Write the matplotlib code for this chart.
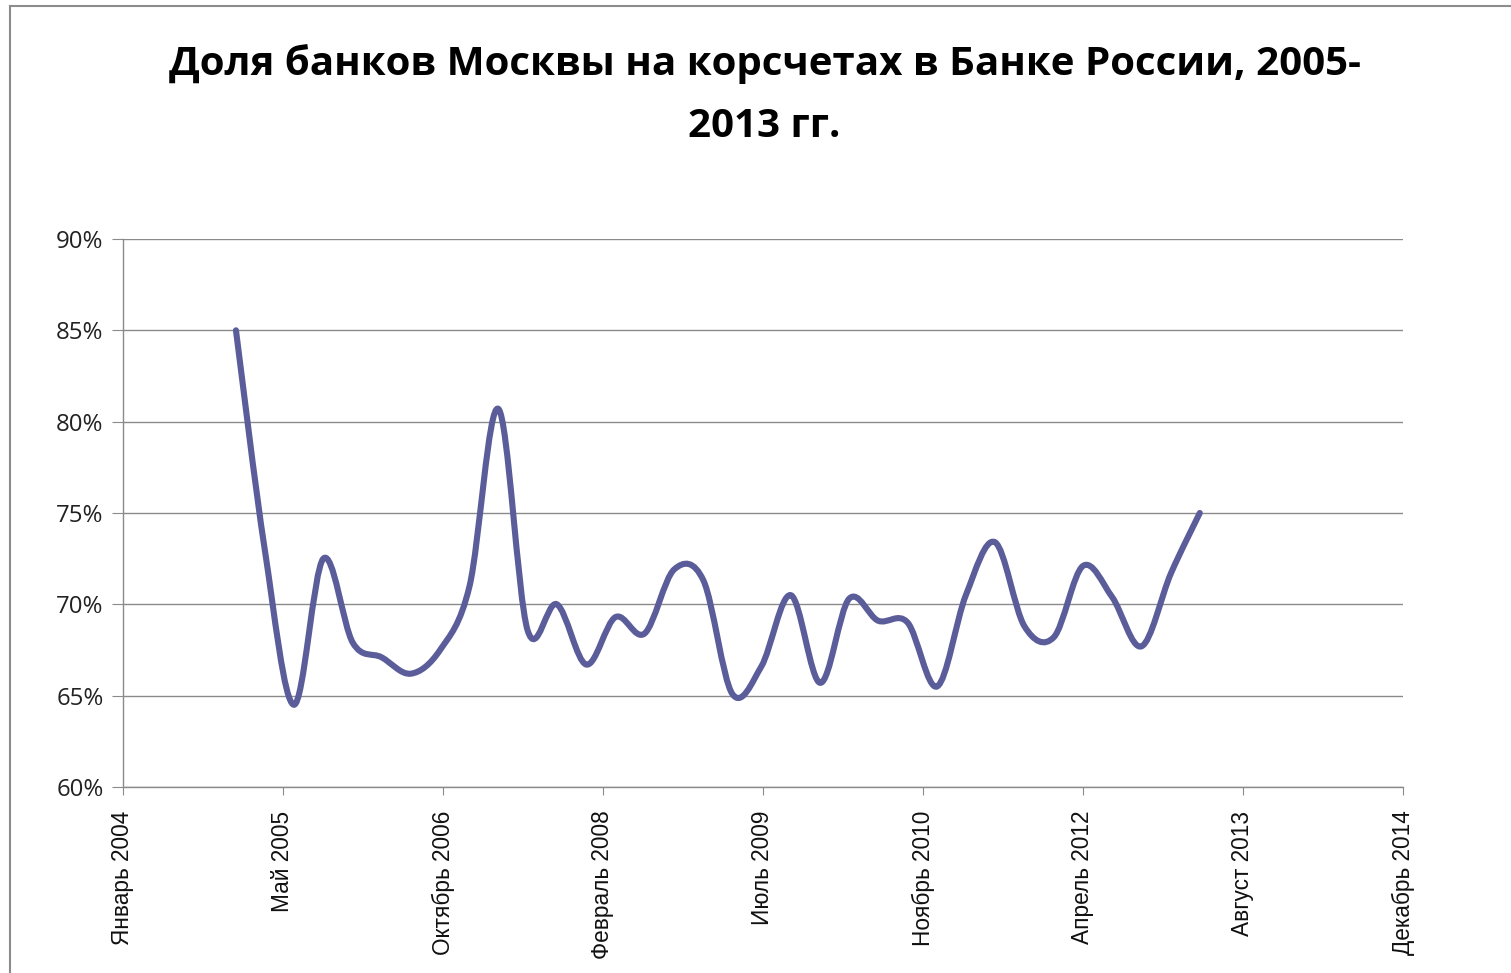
import datetime as dt

import numpy as np
import matplotlib
matplotlib.use("Agg")
import matplotlib.pyplot as plt
import matplotlib.dates as mdates
from matplotlib.path import Path
from matplotlib.patches import PathPatch
from matplotlib.lines import Line2D
from matplotlib.ticker import FixedLocator, FuncFormatter

# quarterly share of Moscow banks on correspondent accounts, 2005-2013
quarters = [dt.date(2005 + i // 4, 1 + 3 * (i % 4), 1) for i in range(34)]
share = [85.0, 73.0, 64.5, 72.5, 67.9, 67.1, 66.2, 67.5, 71.0, 80.7,
         68.6, 70.0, 66.7, 69.3, 68.4, 71.9, 71.3, 65.1, 66.6, 70.5,
         65.7, 70.3, 69.1, 69.0, 65.5, 70.5, 73.4, 68.8, 68.2, 72.1,
         70.4, 67.7, 71.7, 75.0]

# Excel-like date axis: serial 38000 .. 42000, major unit 500 days
axis_start = dt.date(2004, 1, 14)
axis_step = 500
tick_labels = ["Январь 2004", "Май 2005", "Октябрь 2006", "Февраль 2008",
               "Июль 2009", "Ноябрь 2010", "Апрель 2012", "Август 2013",
               "Декабрь 2014"]
y_ticks = [60, 65, 70, 75, 80, 85, 90]

title = "Доля банков Москвы на корсчетах в Банке России, 2005-\n2013 гг."

line_color = "#5b5d9a"
grid_color = "#8a8a8a"


def smooth_path(x, y):
    """Catmull-Rom style bezier through the points (like Excel's smoothed line)."""
    x = np.asarray(x, float)
    y = np.asarray(y, float)
    n = len(x)
    verts = [(x[0], y[0])]
    codes = [Path.MOVETO]
    for i in range(n - 1):
        i0 = max(i - 1, 0)
        i3 = min(i + 2, n - 1)
        c1 = (x[i] + (x[i + 1] - x[i0]) / 6, y[i] + (y[i + 1] - y[i0]) / 6)
        c2 = (x[i + 1] - (x[i3] - x[i]) / 6, y[i + 1] - (y[i3] - y[i]) / 6)
        verts += [c1, c2, (x[i + 1], y[i + 1])]
        codes += [Path.CURVE4] * 3
    return Path(verts, codes)


fig = plt.figure(figsize=(15.11, 9.73), dpi=100)
ax = fig.add_axes([0.0814, 0.1912, 0.8471, 0.5632])

xnum = mdates.date2num(quarters)
patch = PathPatch(smooth_path(xnum, share), facecolor="none",
                  edgecolor=line_color, lw=4.4, capstyle="round",
                  joinstyle="round", zorder=3)
ax.add_patch(patch)
ax.plot(xnum, share, alpha=0)  # keeps autoscale aware of the data

x0 = mdates.date2num(axis_start)
xticks = [x0 + k * axis_step for k in range(len(tick_labels))]
ax.set_xlim(xticks[0], xticks[-1])
ax.set_ylim(60, 90)

ax.xaxis.set_major_locator(FixedLocator(xticks))
ax.set_xticklabels(tick_labels, rotation=90, fontsize=16.3,
                   family="Liberation Sans")
ax.set_yticks(y_ticks)
ax.yaxis.set_major_formatter(FuncFormatter(lambda v, p: f"{v:.0f}%"))
for lab in ax.get_yticklabels():
    lab.set_family("Open Sans")
    lab.set_fontsize(17.3)

ax.grid(axis="y", color=grid_color, lw=1)
ax.set_axisbelow(True)
for s in ("top", "right"):
    ax.spines[s].set_visible(False)
for s in ("left", "bottom"):
    ax.spines[s].set_color(grid_color)
    ax.spines[s].set_linewidth(1)
ax.tick_params(axis="y", direction="out", length=8, color=grid_color,
               pad=6, labelcolor="#222222")
ax.tick_params(axis="x", direction="out", length=6, color=grid_color,
               pad=11, labelcolor="#111111")

fig.text(0.506, 0.955, title, ha="center", va="top", fontsize=29,
         fontweight="bold", family="Open Sans", linespacing=1.77)

# chart area frame (only top and left edges visible in the original)
fig.add_artist(Line2D([10 / 1511, 10 / 1511], [0, 1 - 6 / 973],
                      transform=fig.transFigure, color="#8c8c8c", lw=1.5))
fig.add_artist(Line2D([10 / 1511, 1], [1 - 6 / 973, 1 - 6 / 973],
                      transform=fig.transFigure, color="#8c8c8c", lw=1.5))

fig.savefig("out.png", dpi=100)
